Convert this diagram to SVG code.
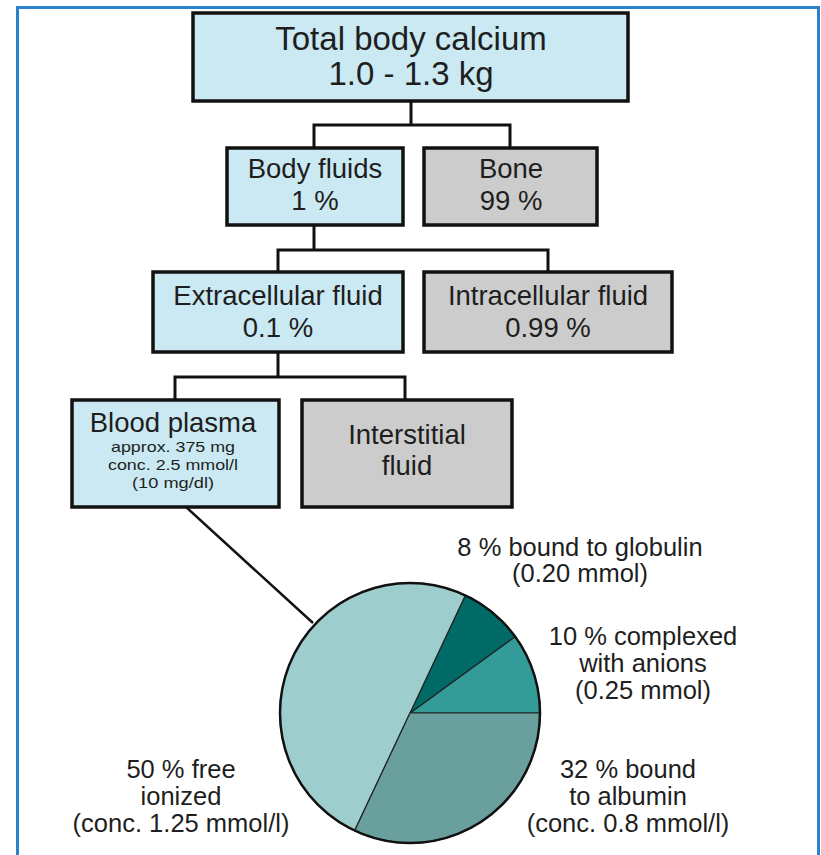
<svg xmlns="http://www.w3.org/2000/svg" width="821" height="855" viewBox="0 0 821 855">
<style>
.box{stroke:#111;stroke-width:3.5}
.blue{fill:#cbe9f2}
.grey{fill:#cccccc}
text{font-family:"Liberation Sans",Arial,sans-serif;fill:#1e1e1e;text-anchor:middle}
.t1{font-size:33px}
.t2{font-size:27.5px}
.t3{font-size:15px}
.t4{font-size:25.5px}
.conn{fill:none;stroke:#111;stroke-width:3}
.slice{stroke:#222;stroke-width:1.2}
</style>
<rect x="17.5" y="7.5" width="801" height="870" fill="#fff" stroke="#2a82cf" stroke-width="3"/>
<g id="connectors">
<path class="conn" d="M411,101 V125 M314,148 V125 H510 V148"/>
<path class="conn" d="M314,225 V250 M278,272 V250 H548 V272"/>
<path class="conn" d="M278,352 V377 M175,400 V377 H405 V400"/>
<path fill="none" stroke="#111" stroke-width="2.5" d="M186,507 L313,623"/>
</g>
<g id="total">
<rect class="box blue" x="193" y="13" width="435" height="88"/>
<text class="t1" x="411" y="50">Total body calcium</text>
<text class="t1" x="411" y="85">1.0 - 1.3 kg</text>
</g>
<g id="bodyfluids">
<rect class="box blue" x="227" y="148" width="176" height="77"/>
<text class="t2" x="315" y="178">Body fluids</text>
<text class="t2" x="315" y="210">1 %</text>
</g>
<g id="bone">
<rect class="box grey" x="424" y="148" width="173" height="77"/>
<text class="t2" x="511" y="178">Bone</text>
<text class="t2" x="511" y="210">99 %</text>
</g>
<g id="extracellular">
<rect class="box blue" x="153" y="272" width="250" height="80"/>
<text class="t2" x="278" y="305">Extracellular fluid</text>
<text class="t2" x="278" y="337">0.1 %</text>
</g>
<g id="intracellular">
<rect class="box grey" x="424" y="272" width="248" height="80"/>
<text class="t2" x="548" y="305">Intracellular fluid</text>
<text class="t2" x="548" y="337">0.99 %</text>
</g>
<g id="plasma">
<rect class="box blue" x="72" y="400" width="207" height="107"/>
<text class="t2" x="173" y="432">Blood plasma</text>
<text class="t3" x="173" y="452" textLength="124" lengthAdjust="spacingAndGlyphs">approx. 375 mg</text>
<text class="t3" x="173" y="470" textLength="130" lengthAdjust="spacingAndGlyphs">conc. 2.5 mmol/l</text>
<text class="t3" x="173" y="488" textLength="82" lengthAdjust="spacingAndGlyphs">(10 mg/dl)</text>
</g>
<g id="interstitial">
<rect class="box grey" x="302" y="400" width="210" height="107"/>
<text class="t2" x="407" y="444">Interstitial</text>
<text class="t2" x="407" y="475">fluid</text>
</g>
<g id="pie">
<path class="slice" fill="#339b98" d="M410,713 L540,713 A130,130 0 0 0 515.17,636.59 Z"/>
<path class="slice" fill="#006b66" d="M410,713 L515.17,636.59 A130,130 0 0 0 465.35,595.37 Z"/>
<path class="slice" fill="#9dcdcc" d="M410,713 L465.35,595.37 A130,130 0 0 0 292.37,657.65 A130,130 0 0 0 354.65,830.63 Z"/>
<path class="slice" fill="#69a09d" d="M410,713 L354.65,830.63 A130,130 0 0 0 540,713 Z"/>
<circle cx="410" cy="713" r="130" fill="none" stroke="#111" stroke-width="2.5"/>
</g>
<g id="labels">
<text class="t4" x="580" y="556">8 % bound to globulin</text>
<text class="t4" x="580" y="582">(0.20 mmol)</text>
<text class="t4" x="643" y="645">10 % complexed</text>
<text class="t4" x="643" y="672">with anions</text>
<text class="t4" x="643" y="699">(0.25 mmol)</text>
<text class="t4" x="181" y="778">50 % free</text>
<text class="t4" x="181" y="805">ionized</text>
<text class="t4" x="181" y="832">(conc. 1.25 mmol/l)</text>
<text class="t4" x="628" y="778">32 % bound</text>
<text class="t4" x="628" y="805">to albumin</text>
<text class="t4" x="628" y="832">(conc. 0.8 mmol/l)</text>
</g>
</svg>
